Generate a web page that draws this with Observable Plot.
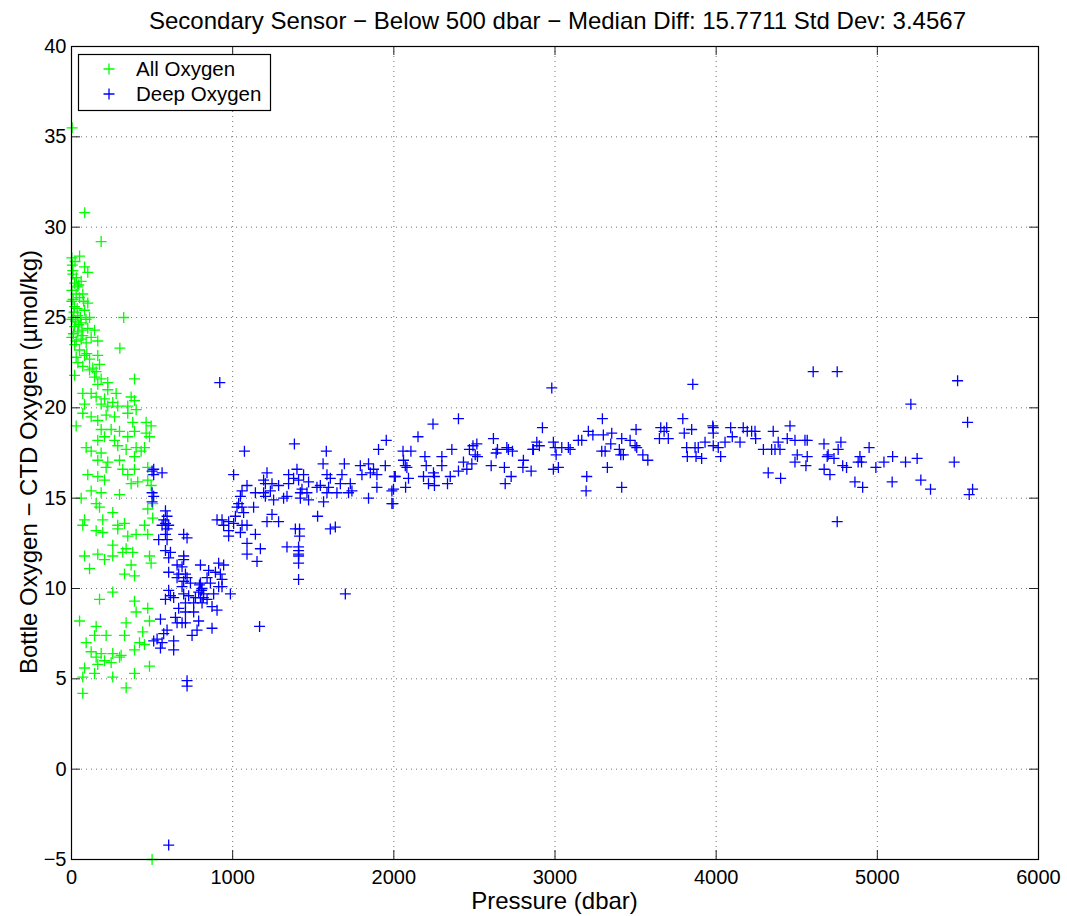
<!DOCTYPE html>
<html>
<head>
<meta charset="utf-8">
<script src="https://cdn.jsdelivr.net/npm/d3@7"></script>
<script src="https://cdn.jsdelivr.net/npm/@observablehq/plot@0.6"></script>
<style>
  html, body { margin: 0; padding: 0; background: #fff; }
  #chart svg { display: block; }
</style>
</head>
<body>
<div id="chart"></div>
<script>
// ---- chart text ----
const titleText = "Secondary Sensor \u2212 Below 500 dbar \u2212 Median Diff: 15.7711 Std Dev: 3.4567";
const xLabel = "Pressure (dbar)";
const yLabel = "Bottle Oxygen \u2212 CTD Oxygen (\u00b5mol/kg)";
const seriesNames = ["All Oxygen", "Deep Oxygen"];
const seriesColors = ["#00ff00", "#0000ff"];
const xTicks = [0, 1000, 2000, 3000, 4000, 5000, 6000];
const yTicks = [-5, 0, 5, 10, 15, 20, 25, 30, 35, 40];

// ---- All Oxygen (green) ----
const allPressure = [4,82,184,324,300,2,50,81,101,8,8,19,39,2,29,70,50,101,2,19,81,39,112,2,60,19,101,143,39,70,2,122,163,29,91,50,81,163,29,112,174,70,132,19,153,112,391,184,143,225,163,225,70,122,153,205,277,370,391,256,81,184,225,287,349,401,29,70,122,163,215,267,349,380,463,494,184,246,298,391,463,484,163,267,349,205,287,401,453,91,122,184,339,432,163,225,298,391,215,318,391,473,101,163,205,349,370,411,473,494,122,184,298,60,153,174,473,504,256,81,70,194,287,329,453,504,153,194,287,349,401,473,256,339,163,81,205,256,318,380,484,370,494,112,329,391,256,174,391,473,401,50,153,339,484,442,143,215,329,91,391,422,453,122,184,256,298,205,246,308,163,153,81,70,143,256,391,484,339,70,500,10,15,25,35,45,55,65,12,30,60,5,22,45,75,90,10,20,40,60,95];
const allDiff = [35.5,30.8,29.2,25.0,23.3,28.3,28.4,27.8,27.5,27.6,27.4,26.9,26.7,26.5,26.3,26.3,26.1,25.8,25.9,25.6,25.4,25.1,25.0,24.9,24.7,24.5,24.4,24.3,24.2,24.0,23.9,23.9,23.7,23.7,23.6,23.2,22.9,22.9,22.8,22.7,22.4,22.3,22.2,21.8,22.0,22.1,21.6,21.6,21.7,21.4,21.3,21.0,20.8,20.8,20.6,20.5,20.8,20.6,20.4,20.3,20.2,20.2,20.1,20.1,20.1,19.9,19.0,19.7,19.5,19.3,19.6,19.5,19.7,19.2,19.2,19.0,18.8,18.8,18.7,18.7,18.6,18.4,18.2,18.2,18.4,18.4,17.9,17.8,17.8,17.8,17.6,17.5,17.7,17.6,17.1,17.0,17.1,17.3,16.7,16.6,16.6,16.7,16.3,16.2,16.0,16.3,15.8,15.9,16.0,15.7,15.4,15.3,15.2,15.0,14.7,14.5,14.4,14.7,14.2,13.8,13.5,13.8,13.5,13.6,13.5,13.9,13.2,13.1,13.3,12.9,13.0,13.0,12.4,12.2,11.9,11.8,11.6,11.8,12.0,12.0,11.8,11.3,11.4,11.1,10.8,10.7,9.8,9.4,9.3,8.9,8.7,8.2,7.9,8.1,8.2,7.6,7.4,7.4,7.4,7.0,6.6,7.0,6.9,6.5,6.4,6.4,6.2,6.0,5.9,6.3,5.8,6.2,5.6,5.1,5.3,5.1,5.3,5.7,4.5,4.2,-5.0,26.0,25.3,24.8,25.5,26.8,25.0,24.3,24.1,27.2,27.0,27.9,28.1,24.6,25.9,24.9,25.0,23.5,22.5,23.8,23.0];

// ---- Deep Oxygen (blue) ----
const deepPressure = [920,1383,1073,1581,1953,1905,1561,1693,1792,1843,1874,1947,1854,1802,1895,2009,510,562,500,510,1006,1213,1347,1399,1378,1409,1440,1471,1585,1606,1678,1730,1544,1595,1668,1192,1203,1244,1285,1347,1430,1461,1420,1523,1585,1647,1089,1058,1141,1192,1203,1254,1234,1316,1337,1420,1471,1564,1719,1740,1843,1988,1988,1895,500,510,500,1048,1037,1027,1058,1130,1068,1017,903,934,975,1006,944,1058,1089,975,1048,1141,975,1285,1213,1244,1527,1606,1637,1389,1415,1415,1409,1409,1409,1409,1409,1409,1337,1172,1089,1089,1151,1699,1167,583,593,572,583,603,562,593,583,593,541,583,614,603,696,717,696,696,655,686,603,665,707,717,655,696,738,686,603,614,583,634,696,727,800,851,841,800,810,789,820,800,769,862,882,913,934,934,924,913,944,893,986,841,758,810,872,903,707,665,707,758,789,872,779,748,645,686,655,707,552,593,572,531,510,562,552,634,634,717,717,603,806,818,794,
2980,3855,2401,2243,3294,3793,2922,2150,2618,3207,3235,3352,3300,3503,3656,3693,3677,3648,3703,3802,3848,3979,3982,3931,3982,4013,3145,3166,3414,3466,3497,3507,3346,2990,3001,3042,3083,3094,2887,2903,2862,2057,2106,2193,2298,2360,2469,2491,2515,2505,2519,2643,2635,2701,2711,2736,2866,2804,3007,3290,3311,3399,3408,3424,3545,3576,3817,3869,3889,3821,3875,3910,2060,2071,2081,2201,2298,2432,2484,2453,2401,2604,2686,2801,2852,2990,3021,3325,2003,2091,2184,2246,2252,2350,2728,3197,2215,2252,2333,2073,2691,1998,3193,3414,1995,
4602,4751,5498,5208,5560,3982,4090,4168,4193,4220,4241,4245,4100,4354,4458,4385,4441,4489,4551,4565,4055,4148,4028,4293,4344,4365,4396,4669,4774,4757,4949,4695,4689,4731,4503,4565,4489,4557,4892,4902,4881,4785,4809,4670,4706,4323,4400,4861,4909,4991,5041,5095,5175,5247,5092,5270,5330,5477,5570,5591,4751];
const deepDiff = [21.4,18.0,17.6,17.6,18.2,17.7,16.9,16.9,16.8,16.9,16.6,16.8,16.4,16.3,16.3,16.2,16.6,16.4,16.5,16.3,16.3,16.4,16.3,16.6,16.1,16.0,16.3,15.9,16.3,16.1,16.3,15.8,15.7,15.6,15.8,16.0,15.8,15.8,15.7,15.8,15.5,15.3,15.3,15.6,15.3,15.3,15.7,15.4,15.3,15.3,15.1,14.9,15.4,15.0,15.1,15.0,14.9,14.8,15.3,15.4,15.0,15.4,14.7,15.6,15.3,15.1,14.8,15.1,14.7,14.5,14.5,14.5,14.2,14.0,13.8,13.8,13.7,13.6,13.5,13.5,13.5,13.2,13.1,13.0,12.9,13.7,13.7,14.1,14.0,13.3,13.4,13.3,13.3,12.9,12.3,12.1,11.9,11.8,11.4,10.5,12.3,12.2,12.5,11.9,11.5,9.7,7.9,14.3,14.0,13.8,13.6,13.5,13.5,13.3,13.0,12.7,12.7,12.1,12.0,11.7,13.0,12.8,11.8,11.6,11.3,11.2,10.9,10.8,10.8,10.6,10.6,10.4,10.3,10.1,9.9,9.6,9.4,9.5,9.7,9.6,11.3,11.0,10.6,10.3,10.0,9.8,9.7,9.5,9.5,10.3,9.7,10.1,10.5,10.1,10.8,11.4,11.3,10.9,9.7,9.4,9.2,9.2,9.0,8.8,9.2,8.9,8.7,8.7,8.2,7.8,7.7,7.4,8.4,8.1,8.1,8.1,8.3,7.7,7.5,7.2,7.1,7.0,6.7,7.1,6.6,4.9,4.6,-4.2,9.9,9.5,10.2,
21.1,21.3,19.4,19.1,19.4,19.4,18.9,18.4,18.3,18.7,18.5,18.6,18.5,18.8,18.9,18.9,18.7,18.3,18.3,18.6,18.8,19.0,18.6,18.1,17.9,17.8,18.2,18.2,18.3,18.2,17.9,17.8,18.0,18.1,17.8,17.8,17.8,17.7,18.1,17.9,17.7,17.6,17.6,17.3,17.3,17.7,17.7,17.9,18.0,17.4,17.3,17.7,17.5,17.8,17.7,17.6,17.7,17.1,17.4,17.6,17.6,17.7,17.4,17.4,17.4,17.1,17.8,17.8,17.8,17.3,17.3,17.2,17.1,16.8,16.7,16.8,16.8,17.0,16.9,16.6,16.5,16.8,16.7,16.7,16.5,16.6,16.7,16.7,16.2,16.1,16.2,16.4,16.2,16.2,16.2,16.2,15.8,15.7,15.8,15.6,15.8,15.5,15.4,15.6,14.7,
22.0,22.0,21.5,20.2,19.2,18.9,18.9,18.9,18.7,18.7,18.7,18.3,18.4,18.7,19.0,18.1,18.3,18.2,18.2,18.2,18.1,18.1,17.3,17.7,17.7,17.7,17.7,18.0,18.1,17.7,17.8,17.4,17.3,17.2,17.4,17.3,17.0,16.8,17.3,17.0,17.0,16.8,16.7,16.6,16.3,16.4,16.1,15.9,15.6,16.7,17.0,17.3,17.0,17.2,15.9,16.0,15.5,17.0,15.2,15.5,13.7];

const allData = allPressure.map((p, i) => ({pressure: p, diff: allDiff[i]}));
const deepData = deepPressure.map((p, i) => ({pressure: p, diff: deepDiff[i]}));

// MATLAB-style thin "+" marker
const plusSymbol = {
  draw(context, size) {
    const r = 5.5;
    context.moveTo(-r, 0); context.lineTo(r, 0);
    context.moveTo(0, -r); context.lineTo(0, r);
  }
};

const W = 1067, H = 916;
const mL = 71, mR = 29, mT = 46, mB = 57;
const innerW = W - mL - mR, innerH = H - mT - mB;
const tickLen = 9;
const font = "'Liberation Sans', Arial, Helvetica, sans-serif";

const chart = Plot.plot({
  width: W, height: H,
  marginLeft: mL, marginRight: mR, marginTop: mT, marginBottom: mB,
  style: {fontFamily: font, fontSize: "20px", background: "#fff", color: "#000"},
  x: {domain: [0, 6000], ticks: xTicks, label: null},
  y: {domain: [-5, 40], ticks: yTicks, label: null},
  marks: [
    Plot.ruleX(xTicks.slice(1, -1), {stroke: "#000", strokeOpacity: 0.55, strokeDasharray: "1,4"}),
    Plot.ruleY(yTicks.slice(1, -1), {stroke: "#000", strokeOpacity: 0.55, strokeDasharray: "1,4"}),
    Plot.dot(allData, {x: "pressure", y: "diff", symbol: plusSymbol, r: 5.5, fill: "none", stroke: seriesColors[0], strokeWidth: 1.3}),
    Plot.dot(deepData, {x: "pressure", y: "diff", symbol: plusSymbol, r: 5.5, fill: "none", stroke: seriesColors[1], strokeWidth: 1.3}),
    // inward tick marks on all four sides
    Plot.ruleX(xTicks, {stroke: "#222", insetTop: innerH - tickLen}),
    Plot.ruleX(xTicks, {stroke: "#222", insetBottom: innerH - tickLen}),
    Plot.ruleY(yTicks, {stroke: "#222", insetRight: innerW - tickLen}),
    Plot.ruleY(yTicks, {stroke: "#222", insetLeft: innerW - tickLen}),
    Plot.axisX({ticks: xTicks, tickSize: 0, tickPadding: 10, label: null, fontSize: 20, tickFormat: d3.format("d")}),
    Plot.axisY({ticks: yTicks, tickSize: 0, tickPadding: 5, label: null, fontSize: 20}),
    Plot.frame({stroke: "#000", strokeWidth: 1.2})
  ]
});

document.getElementById("chart").appendChild(chart);

// title, axis labels and legend
const svg = d3.select(chart);
svg.append("text")
  .attr("x", mL + innerW / 2 + 3).attr("y", 29)
  .attr("text-anchor", "middle")
  .style("font-family", font).style("font-size", "24px").attr("fill", "#000")
  .text(titleText);
svg.append("text")
  .attr("x", mL + innerW / 2).attr("y", 909)
  .attr("text-anchor", "middle")
  .style("font-family", font).style("font-size", "24px").attr("fill", "#000")
  .text(xLabel);
svg.append("text")
  .attr("transform", `translate(37,462) rotate(-90)`)
  .attr("text-anchor", "middle")
  .style("font-family", font).style("font-size", "24px").attr("fill", "#000")
  .text(yLabel);

const lg = svg.append("g");
lg.append("rect").attr("x", 78.5).attr("y", 54.5).attr("width", 192).attr("height", 56)
  .attr("fill", "#fff").attr("stroke", "#000").attr("stroke-width", 1.2);
seriesNames.forEach((name, i) => {
  const cy = 69 + i * 25;
  lg.append("path").attr("d", `M${109 - 5.5},${cy}h11M109,${cy - 5.5}v11`)
    .attr("stroke", seriesColors[i]).attr("stroke-width", 1.3).attr("fill", "none");
  lg.append("text").attr("x", 136).attr("y", cy + 7)
    .attr("text-anchor", "start")
    .style("font-family", font).style("font-size", "20.5px").attr("fill", "#000")
    .text(name);
});
</script>
</body>
</html>
